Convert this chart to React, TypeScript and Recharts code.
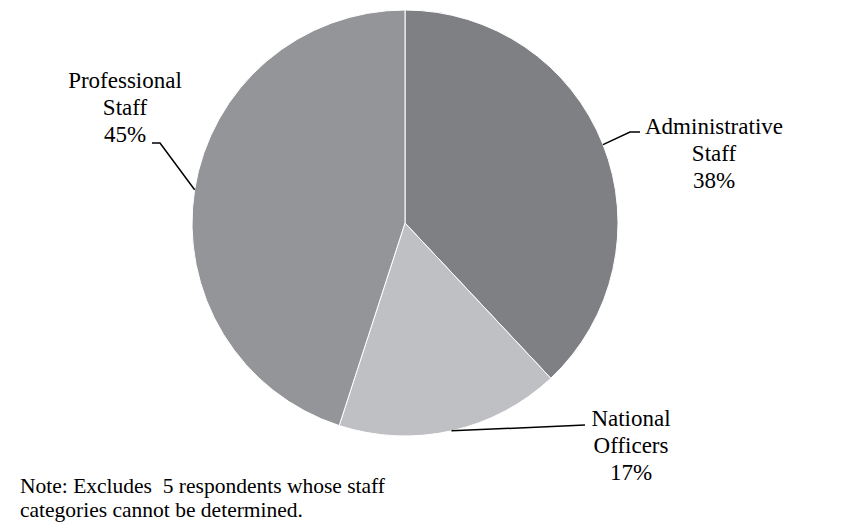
import React from 'react';
import { PieChart, Pie, Cell } from 'recharts';

const categories = ['Administrative Staff', 'National Officers', 'Professional Staff'];
const shares = [38, 17, 45];
const labelLines = [
  ['Administrative', 'Staff', '38%'],
  ['National', 'Officers', '17%'],
  ['Professional', 'Staff', '45%'],
];

const data = categories.map((name, i) => ({ name, value: shares[i] }));

const COLORS = ['#7f8084', '#bfc0c4', '#949599'];
const FONT = 'Liberation Serif, Times New Roman, serif';
const RAD = Math.PI / 180;

// where each label sits and how its leader line bends
const LABEL_LAYOUT = [
  { bends: [[630, 132], [640, 132]], x: 714, y: 134 },
  { bends: [[585, 425]], x: 631, y: 426 },
  { bends: [[160, 143], [152, 143]], x: 125, y: 88 },
];

function renderLabel(props: any) {
  const { cx, cy, midAngle, outerRadius, index } = props;
  const layout = LABEL_LAYOUT[index];
  const sx = cx + outerRadius * Math.cos(-midAngle * RAD);
  const sy = cy + outerRadius * Math.sin(-midAngle * RAD);
  const pts = [[sx, sy], ...layout.bends].map((p) => p.join(',')).join(' ');
  return (
    <g key={`label-${index}`}>
      <polyline points={pts} fill="none" stroke="#000" strokeWidth={1.5} />
      <text
        x={layout.x}
        y={layout.y}
        textAnchor="middle"
        fill="#000"
        style={{ fontFamily: FONT, fontSize: 23 }}
      >
        {labelLines[index].map((line, j) => (
          <tspan key={j} x={layout.x} dy={j === 0 ? 0 : 27}>
            {line}
          </tspan>
        ))}
      </text>
    </g>
  );
}

export default function App() {
  return (
    <div style={{ position: 'absolute', left: 0, top: 0, width: 859, height: 527, background: '#fff' }}>
      <PieChart width={859} height={527} margin={{ top: 0, right: 0, bottom: 0, left: 0 }}>
        <Pie
          data={data}
          dataKey="value"
          nameKey="name"
          cx={405}
          cy={223}
          outerRadius={213}
          startAngle={90}
          endAngle={-270}
          stroke="#ffffff"
          strokeWidth={1}
          label={renderLabel}
          labelLine={false}
          isAnimationActive={false}
        >
          {data.map((d, i) => (
            <Cell key={d.name} fill={COLORS[i]} />
          ))}
        </Pie>
      </PieChart>
      <div
        style={{
          position: 'absolute',
          left: 20,
          top: 474,
          fontFamily: FONT,
          fontSize: 21.5,
          lineHeight: '24px',
          whiteSpace: 'pre',
          color: '#000',
        }}
      >
        {'Note: Excludes  5 respondents whose staff\ncategories cannot be determined.'}
      </div>
    </div>
  );
}
